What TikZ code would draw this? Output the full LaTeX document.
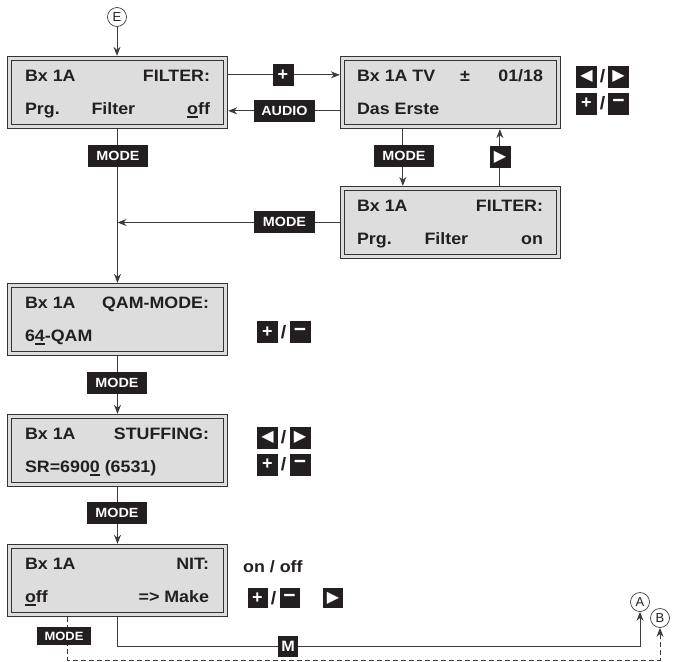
\documentclass[tikz,border=0pt]{standalone}
\usepackage{fontspec}
\setmainfont{Liberation Sans}
\newfontfamily\lcdfont[FakeStretch=1.08]{Liberation Sans}
\newfontfamily\symfont{DejaVu Sans}
\usetikzlibrary{arrows.meta,calc}
\definecolor{lcdgray}{HTML}{DDDDDD}
\definecolor{framecol}{HTML}{333333}
\definecolor{keyblack}{HTML}{231F20}
\definecolor{linecol}{HTML}{3C3C3C}
\newcommand\myul[1]{\setbox0\hbox{#1}\rlap{\rule[-3.2pt]{\wd0}{1.5pt}}\box0\relax}
\begin{document}
\begin{tikzpicture}[x=1pt,y=-1pt,
  lcd/.style={draw=framecol, line width=1.3pt, fill=lcdgray, minimum width=220pt, minimum height=72pt, inner sep=0pt},
  lt/.style={font=\lcdfont\fontsize{16.5}{18}\selectfont\bfseries, text=keyblack, inner sep=0pt},
  key/.style={fill=keyblack, text=white, font=\lcdfont\fontsize{13.3}{15}\selectfont\bfseries, inner sep=0pt, minimum height=22pt},
  mkey/.style={key, minimum width=60pt},
  skey/.style={key, minimum width=21pt},
  pkey/.style={skey, font=\fontsize{18}{18}\selectfont\bfseries},
  nkey/.style={skey, font=\fontsize{21}{21}\selectfont\bfseries},
  tri/.style={skey, font=\symfont\fontsize{16}{16}\selectfont},
  conn/.style={draw=linecol, line width=1pt},
  arr/.style={conn, -{Stealth[length=9pt,width=7pt]}},
  circ/.style={circle, draw=linecol, line width=0.7pt, minimum size=19pt, inner sep=0pt, font=\fontsize{13}{14}\selectfont, text=keyblack},
  slash/.style={font=\lcdfont\fontsize{18}{20}\selectfont\bfseries, inner sep=0pt, text=keyblack}
]
\useasboundingbox (0,0) rectangle (673,662);

% LCD boxes
\node[lcd] (b1) at (117.5,92.5) {};
\node[lcd] (b2) at (450.5,92.5) {};
\node[lcd] (b3) at (450.5,222.5) {};
\node[lcd] (b4) at (117.5,319.5) {};
\node[lcd] (b5) at (117.5,450.5) {};
\node[lcd] (b6) at (117.5,580.5) {};
\foreach \n in {b1,b2,b3,b4,b5,b6}
  \draw[framecol, line width=1.2pt] ([shift={(5pt,-5pt)}]\n.north west) rectangle ([shift={(-5pt,5pt)}]\n.south east);

% texts
\node[lt, anchor=base west] (t1a) at ($(b1.north west)+(18,25.5)$) {Bx 1A};
\node[lt, anchor=base east] (t1b) at ($(b1.north east)+(-18,25.5)$) {FILTER:};
\node[lt, anchor=base west] (t1c) at ($(b1.north west)+(18,58.5)$) {Prg.};
\node[lt, anchor=base west] (t1d) at ($(b1.north west)+(84.5,58.5)$) {Filter};
\node[lt, anchor=base east] (t1e) at ($(b1.north east)+(-18,58.5)$) {\myul{o}ff};

\node[lt, anchor=base west] (t2a) at ($(b2.north west)+(17,25.5)$) {Bx 1A TV};
\node[lt, anchor=base west] (t2b) at ($(b2.north west)+(120,25.5)$) {±};
\node[lt, anchor=base east] (t2c) at ($(b2.north east)+(-18,25.5)$) {01/18};
\node[lt, anchor=base west] (t2d) at ($(b2.north west)+(17,58.5)$) {Das Erste};

\node[lt, anchor=base west] (t3a) at ($(b3.north west)+(17,25.5)$) {Bx 1A};
\node[lt, anchor=base east] (t3b) at ($(b3.north east)+(-18,25.5)$) {FILTER:};
\node[lt, anchor=base west] (t3c) at ($(b3.north west)+(17,58.5)$) {Prg.};
\node[lt, anchor=base west] (t3d) at ($(b3.north west)+(84.5,58.5)$) {Filter};
\node[lt, anchor=base east] (t3e) at ($(b3.north east)+(-18,58.5)$) {on};

\node[lt, anchor=base west] (t4a) at ($(b4.north west)+(18,25.5)$) {Bx 1A};
\node[lt, anchor=base east] (t4b) at ($(b4.north east)+(-19,25.5)$) {QAM-MODE:};
\node[lt, anchor=base west] (t4c) at ($(b4.north west)+(18,58.5)$) {6\myul{4}-QAM};

\node[lt, anchor=base west] (t5a) at ($(b5.north west)+(18,25.5)$) {Bx 1A};
\node[lt, anchor=base east] (t5b) at ($(b5.north east)+(-19,25.5)$) {STUFFING:};
\node[lt, anchor=base west] (t5c) at ($(b5.north west)+(18,58.5)$) {SR=690\myul{0} (6531)};

\node[lt, anchor=base west] (t6a) at ($(b6.north west)+(18,25.5)$) {Bx 1A};
\node[lt, anchor=base east] (t6b) at ($(b6.north east)+(-19,25.5)$) {NIT:};
\node[lt, anchor=base west] (t6c) at ($(b6.north west)+(18,58.5)$) {\myul{o}ff};
\node[lt, anchor=base east] (t6d) at ($(b6.north east)+(-19,58.5)$) {=> Make};

% circles
\node[circ] (cE) at (117,17) {E};
\node[circ] (cA) at (640,602) {A};
\node[circ] (cB) at (660,618) {B};

% connectors
\draw[arr] (cE.south) -- (cE.south |- b1.north);
\draw[arr] ($(b1.north east)+(0,19)$) -- ($(b2.north west)+(0,19)$);
\draw[arr] ($(b2.north west)+(0,55)$) -- ($(b1.north east)+(0,55)$);
\draw[arr] (b1.south) -- (b4.north);
\draw[arr] ($(b2.south west)+(63,0)$) -- ($(b3.north west)+(63,0)$);
\draw[arr] ($(b3.north west)+(160,0)$) -- ($(b2.south west)+(160,0)$);
\draw[arr] (b3.west) -- (b1.south |- b3.west);
\draw[arr] (b4.south) -- (b5.north);
\draw[arr] (b5.south) -- (b6.north);
\draw[arr] (b6.south) -- ++(0,29) -| (cA.south);
\draw[arr, dash pattern=on 5pt off 3pt] ($(b6.south west)+(61,0)$) -- ++(0,43) -| (cB.south);

% keys on connectors
\node[pkey] (kplus) at (283,75) {+};
\node[mkey, minimum width=61pt] (kaudio) at (284.5,110.5) {AUDIO};
\node[mkey] (km1) at (118,155.5) {MODE};
\node[mkey] (km2) at (404,156) {MODE};
\node[tri] (kr2) at (500,157) {▶};
\node[mkey, minimum width=61pt] (km3) at (284.5,222) {MODE};
\node[mkey] (km4) at (117,383) {MODE};
\node[mkey] (km5) at (117,513) {MODE};
\node[skey, minimum width=20pt, minimum height=21pt, font=\lcdfont\fontsize{15}{15}\selectfont\bfseries] (kM) at (288,646.5) {M};
\node[mkey, minimum width=54pt, minimum height=18pt, font=\lcdfont\fontsize{12}{13}\selectfont\bfseries] (km6) at (64,636) {MODE};

% side key groups
\node[tri] (sL1) at (586.5,76.5) {◀};
\node[slash] (sS1) at (602.5,76.5) {/};
\node[tri] (sR1) at (618.5,76.5) {▶};
\node[pkey] (sP1) at (586.5,103.5) {+};
\node[slash] (sS2) at (602.5,103.5) {/};
\node[nkey] (sM1) at (618.5,103.5) {−};

\node[pkey] (sP2) at (267.5,332) {+};
\node[slash] (sS3) at (283.5,332) {/};
\node[nkey] (sM2) at (300,332) {−};

\node[tri] (sL3) at (267.5,437.5) {◀};
\node[slash] (sS4) at (283.5,437.5) {/};
\node[tri] (sR3) at (300,437.5) {▶};
\node[pkey] (sP3) at (267.5,464.5) {+};
\node[slash] (sS5) at (283.5,464.5) {/};
\node[nkey] (sM3) at (300,464.5) {−};

\node[lt, anchor=base west] (onoff) at (243,572) {on / off};
\node[pkey, minimum width=20pt, minimum height=20pt] (sP4) at (257.5,598) {+};
\node[slash] (sS6) at (273.5,598) {/};
\node[nkey, minimum width=20pt, minimum height=20pt] (sM4) at (289.5,598) {−};
\node[tri, minimum width=20pt, minimum height=20pt] (sR4) at (333,598) {▶};
\end{tikzpicture}
\end{document}
